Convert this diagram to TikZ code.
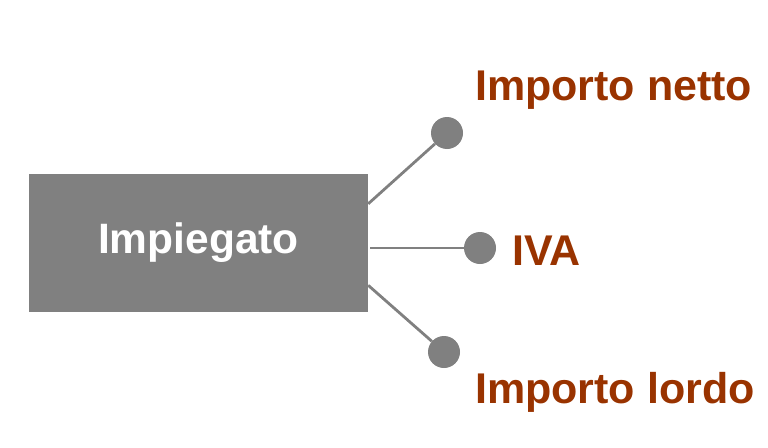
\documentclass[tikz,border=0pt]{standalone}
\usepackage{fontspec}
\setmainfont{Liberation Sans}

\definecolor{attrbrown}{HTML}{993300}
\definecolor{boxgray}{HTML}{808080}

\begin{document}
\begin{tikzpicture}
  [x=1pt, y=-1pt,
    entity box/.style={fill=boxgray, draw=none, minimum width=339pt,
      minimum height=138pt, inner sep=0pt, text=white,
      font=\fontsize{42.5}{46}\selectfont\bfseries},
    attr dot/.style={circle, fill=boxgray, draw=none, minimum size=32pt,
      inner sep=0pt},
    attr link/.style={draw=boxgray, line width=2.8pt},
    attr label/.style={anchor=base west, inner sep=0pt, text=attrbrown,
      font=\fontsize{43}{47}\selectfont\bfseries}, ]

  \useasboundingbox (0,0) rectangle (768,447);

  \node[entity box] (impiegato) at (198.5,243) {Impiegato};

  \node[attr dot] (netto dot) at (447,133) {};
  \node[attr dot] (iva dot) at (480,248) {};
  \node[attr dot] (lordo dot) at (444,352) {};

  \draw[attr link] (impiegato.13.6) -- (netto dot);
  \draw[attr link, shorten <=2pt] (impiegato.east |- iva dot) -- (iva dot);
  \draw[attr link] (impiegato.-14.6) -- (lordo dot);

  \node[attr label] (netto) at (475,100) {Importo netto};
  \node[attr label] (iva) at (512,265) {IVA};
  \node[attr label] (lordo) at (475,403) {Importo lordo};

\end{tikzpicture}
\end{document}
